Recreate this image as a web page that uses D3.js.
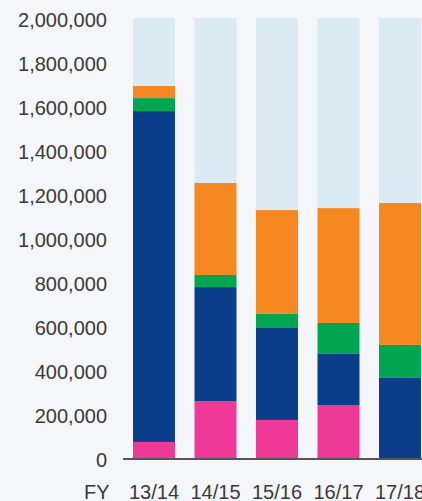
<!DOCTYPE html>
<html><head><meta charset="utf-8">
<script src="https://cdn.jsdelivr.net/npm/d3@7/dist/d3.min.js"></script>
<style>
html,body{margin:0;padding:0;background:#f4f6fa;}
svg{display:block;}
text{font-family:"Liberation Sans",Arial,Helvetica,sans-serif;fill:#3a3a3a;}
</style></head>
<body>
<svg id="c" width="422" height="501"></svg>
<script>
const years = ["13/14","14/15","15/16","16/17","17/18"];
const pink   = [73000, 259000, 173000, 241000, 0];
const navy   = [1504000, 518000, 418000, 232000, 364000];
const green  = [59000, 55000, 64000, 141000, 150000];
const orange = [55000, 418000, 472000, 522000, 645000];
const pale   = [309000, 750000, 873000, 864000, 841000];
const yTicks = [0,200000,400000,600000,800000,1000000,1200000,1400000,1600000,1800000,2000000];

const keys = ["pink","navy","green","orange","pale"];
const colors = {pink:"#ee3a96", navy:"#0a3d8a", green:"#00a651", orange:"#f58820", pale:"#dceaf4"};
const rows = years.map((y,i)=>({year:y, pink:pink[i], navy:navy[i], green:green[i], orange:orange[i], pale:pale[i]}));

const svg = d3.select("#c");
const x = d3.scaleBand().domain(years)
  .range([133, 133+61.5*4+42]).paddingInner(19.5/61.5).paddingOuter(0);
const y = d3.scaleLinear().domain([0,2000000]).range([458,18]);

const series = d3.stack().keys(keys)(rows);
svg.append("g").selectAll("g").data(series).join("g")
  .attr("fill", d=>colors[d.key])
  .selectAll("rect").data(d=>d).join("rect")
  .attr("x", d=>x(d.data.year))
  .attr("width", x.bandwidth())
  .attr("y", d=>y(d[1]))
  .attr("height", d=>y(d[0])-y(d[1]));

// y axis labels
const fmt = d3.format(",");
svg.append("g").selectAll("text").data(yTicks).join("text")
  .attr("x", 107).attr("y", d=>y(d)+2)
  .attr("dy","0.35em")
  .attr("text-anchor","end")
  .style("font-size","20px")
  .text(d=>fmt(d));

// baseline
svg.append("line").attr("x1",123).attr("x2",422).attr("y1",459).attr("y2",459)
  .attr("stroke","#555").attr("stroke-width",2);

// x labels
svg.append("g").selectAll("text").data(years).join("text")
  .attr("x", d=>x(d)+x.bandwidth()/2).attr("y", 499)
  .attr("text-anchor","middle")
  .style("font-size","20px")
  .text(d=>d);
svg.append("text").attr("x",84).attr("y",499).style("font-size","20px").text("FY");
</script>
</body></html>
